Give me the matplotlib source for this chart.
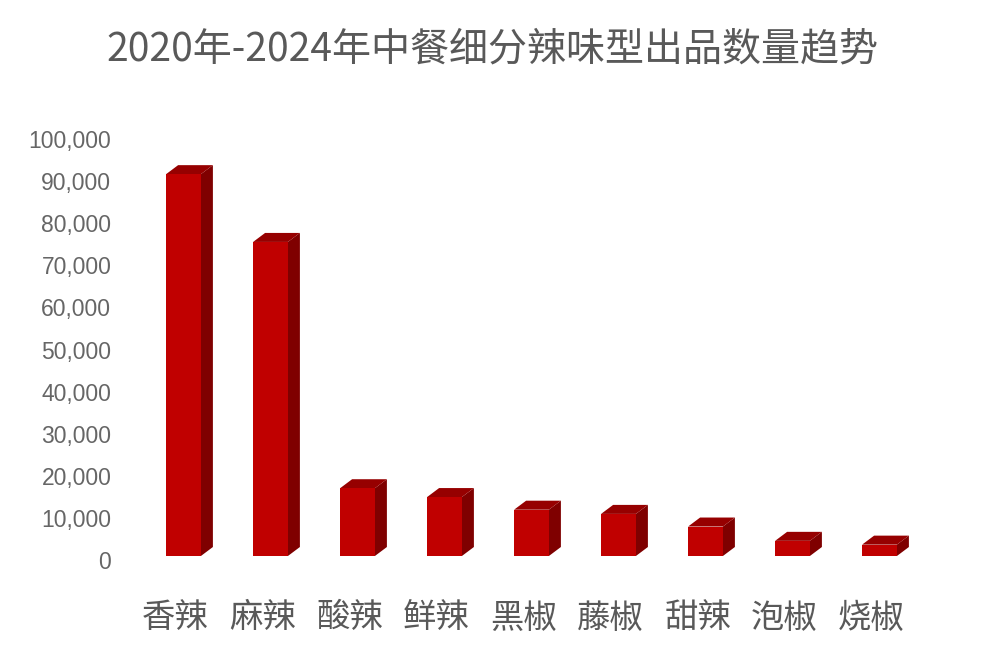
import matplotlib
matplotlib.use("Agg")
import matplotlib.pyplot as plt
from matplotlib.patches import Polygon
from matplotlib.transforms import ScaledTranslation
from matplotlib.ticker import FuncFormatter

categories = ["香辣", "麻辣", "酸辣", "鲜辣", "黑椒", "藤椒", "甜辣", "泡椒", "烧椒"]
values = [90700, 74600, 16100, 14000, 11000, 10000, 7000, 3600, 2700]
yticks = list(range(0, 100001, 10000))
title = "2020年-2024年中餐细分辣味型出品数量趋势"

front_c = "#C00000"
side_c = "#7F0000"
top_c = "#960000"
text_c = "#595959"

W, H = 984, 664
fig = plt.figure(figsize=(W / 100, H / 100), dpi=100)
# axes in pixel geometry
L, R = 118.25, 944.75
B, T = 556, 135
ax = fig.add_axes([L / W, (H - B) / H, (R - L) / W, (B - T) / H])
ax.set_xlim(-0.75, 8.75)
ax.set_ylim(0, 100000)

bw = 0.40
xs = list(range(len(categories)))
ax.bar(xs, values, width=bw, color=front_c, edgecolor="none", zorder=3)

# depth offsets in data units from pixel geometry
px_x = (R - L) / (8.75 + 0.75)
px_y = (B - T) / 100000
dx = 12 / px_x
dy = 9 / px_y
for x, v in zip(xs, values):
    xl, xr = x - bw / 2, x + bw / 2
    side = Polygon([(xr, 0), (xr, v), (xr + dx, v + dy), (xr + dx, dy)],
                   closed=True, facecolor=side_c, edgecolor="none", zorder=2, clip_on=False)
    top = Polygon([(xl, v), (xr, v), (xr + dx, v + dy), (xl + dx, v + dy)],
                  closed=True, facecolor=top_c, edgecolor="none", zorder=2, clip_on=False)
    ax.add_patch(side)
    ax.add_patch(top)

for s in ax.spines.values():
    s.set_visible(False)
ax.set_yticks(yticks)
ax.yaxis.set_major_formatter(FuncFormatter(lambda v, p: f"{int(v):,}"))
ax.tick_params(axis="y", length=0, pad=5, labelsize=16.5, labelcolor="#666666")
for lab in ax.get_yticklabels():
    lab.set_fontfamily(["Liberation Sans", "DejaVu Sans"])
    lab.set_transform(lab.get_transform() + ScaledTranslation(0, -0.04, fig.dpi_scale_trans))

ax.set_xticks(xs)
ax.set_xticklabels(categories)
ax.tick_params(axis="x", length=0, pad=32, labelsize=24, labelcolor=text_c)
for lab in ax.get_xticklabels():
    lab.set_fontfamily(["Noto Sans CJK SC", "DejaVu Sans"])
    lab.set_transform(lab.get_transform() + ScaledTranslation(-0.08, 0, fig.dpi_scale_trans))

fig.text(0.5, 1 - 50 / H, title, ha="center", va="center", fontsize=28.1, color=text_c,
         family=["Noto Sans CJK SC", "DejaVu Sans"])

fig.savefig("out.png", dpi=100)
